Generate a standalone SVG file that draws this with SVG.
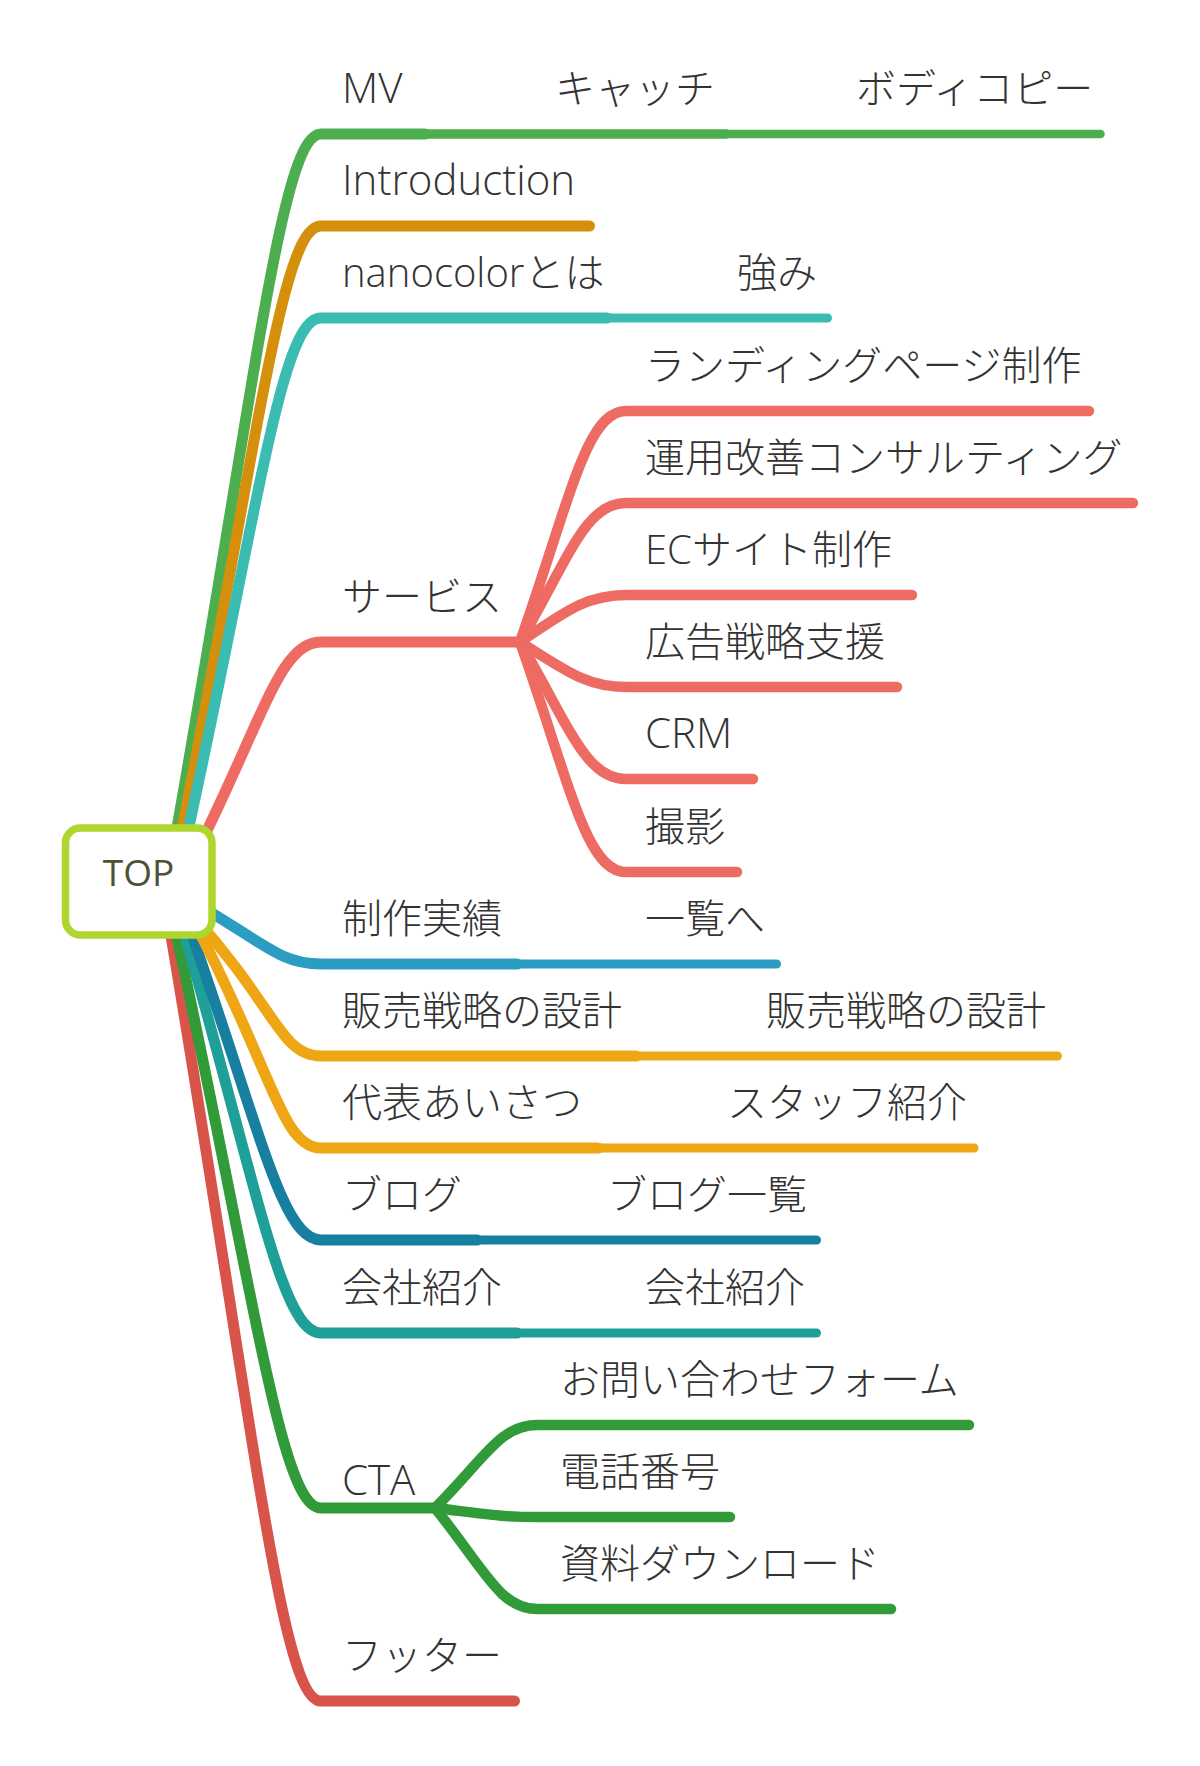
<svg xmlns="http://www.w3.org/2000/svg" width="1200" height="1766" viewBox="0 0 1200 1766">
<style>
.t { font-family: "Open Sans", "Noto Sans CJK JP", sans-serif; font-size: 40px; font-weight: 300; fill: #333333; }
.l { font-size: 42px; }
.top { font-family: "Open Sans", "Noto Sans CJK JP", sans-serif; font-size: 37px; font-weight: 400; fill: #4b5236; text-anchor: middle; }
.c { fill: none; stroke-linecap: round; stroke-linejoin: round; }
.w1 { stroke-width: 11; }
.wf { stroke-width: 10.5; }
.w2 { stroke-width: 9; }
.g1 { stroke: #4cae4f; }
.gd { stroke: #d4900c; }
.t1 { stroke: #3abcb3; }
.sa { stroke: #ee6b64; }
.b1 { stroke: #2b9dc2; }
.or { stroke: #eea614; }
.b2 { stroke: #177f9f; }
.t2 { stroke: #1e9f97; }
.g2 { stroke: #319b39; }
.rd { stroke: #d8544a; }
</style>
<rect width="1200" height="1766" fill="#ffffff"/>
<g id="connectors">
  <path class="c w1 g1" d="M174,845 C256,383 281,134 321,134 L425,134"/>
  <path class="c g1" stroke-width="9.5" d="M425,134 L726,134"/>
  <path class="c g1" stroke-width="8.5" d="M726,134 L1100.5,134"/>
  <path class="c w1 gd" d="M179,845 C258,443 281,226 321,226 L589.5,226"/>
  <path class="c w1 t1" d="M185,845 C260,502 281,318 321,318 L607,318"/>
  <path class="c w2 t1" d="M607,318 L827.5,318"/>
  <path class="c w1 sa" d="M200,845 C265,713 281,642 321,642 L520,642"/>
  <path class="c wf sa" d="M520,642 C570,500 586,411 626,411 L1089,411"/>
  <path class="c wf sa" d="M520,642 C570,555 586,503 626,503 L1133,503"/>
  <path class="c wf sa" d="M520,642 C565,612 586,595 626,595 L912,595"/>
  <path class="c wf sa" d="M520,642 C565,670 586,687 626,687 L897,687"/>
  <path class="c wf sa" d="M520,642 C570,728 586,779 626,779 L753,779"/>
  <path class="c wf sa" d="M520,642 C570,784 586,872 626,872 L737,872"/>
  <path class="c w1 rd" d="M168,918 C254,1427 281,1701 321,1701 L514.5,1701"/>
  <path class="c w1 g2" d="M173,918 C256,1302 281,1508 321,1508 L435,1508"/>
  <path class="c wf g2" d="M435,1508 C485,1458 500,1425 537,1425 L969,1425"/>
  <path class="c wf g2" d="M435,1508 C485,1514 500,1517 537,1517 L730,1517"/>
  <path class="c wf g2" d="M435,1508 C485,1570 500,1609 537,1609 L891,1609"/>
  <path class="c w1 t2" d="M180,918 C258,1188 281,1333 321,1333 L517,1333"/>
  <path class="c w2 t2" d="M517,1333 L816.5,1333"/>
  <path class="c w1 b2" d="M186,918 C260,1127 281,1240 321,1240 L477,1240"/>
  <path class="c w2 b2" d="M477,1240 L816.5,1240"/>
  <path class="c w1 or" d="M192,918 C272,1068 281,1148 321,1148 L598,1148"/>
  <path class="c w2 or" d="M598,1148 L974,1148"/>
  <path class="c w1 or" d="M195,918 C276,1008 281,1056 321,1056 L636,1056"/>
  <path class="c w2 or" d="M636,1056 L1057.5,1056"/>
  <path class="c w1 b1" d="M200,906 C265,944 281,964 321,964 L517,964"/>
  <path class="c w2 b1" d="M517,964 L776.5,964"/>
</g>
<g id="node-top">
  <rect x="65.5" y="828" width="146.5" height="107" rx="15" fill="#ffffff" stroke="#aed62e" stroke-width="7.5"/>
  <text class="top" x="138.5" y="886">TOP</text>
</g>
<g id="node-mv"><text class="t l" x="342" y="103">MV</text></g>
<g id="node-catch"><text class="t" x="555" y="103">キャッチ</text></g>
<g id="node-body"><text class="t" x="856" y="103">ボディコピー</text></g>
<g id="node-intro"><text class="t l" x="342" y="195">Introduction</text></g>
<g id="node-nanocolor"><text class="t" x="342" y="287">nanocolorとは</text></g>
<g id="node-strength"><text class="t" x="737" y="287">強み</text></g>
<g id="node-service"><text class="t" x="342" y="611">サービス</text></g>
<g id="node-lp"><text class="t" x="645" y="380">ランディングページ制作</text></g>
<g id="node-consult"><text class="t" x="645" y="472">運用改善コンサルティング</text></g>
<g id="node-ec"><text class="t" x="645" y="564">ECサイト制作</text></g>
<g id="node-ad"><text class="t" x="645" y="656">広告戦略支援</text></g>
<g id="node-crm"><text class="t l" x="645" y="748">CRM</text></g>
<g id="node-photo"><text class="t" x="645" y="841">撮影</text></g>
<g id="node-works"><text class="t" x="342" y="933">制作実績</text></g>
<g id="node-works-list"><text class="t" x="645" y="933">一覧へ</text></g>
<g id="node-sales"><text class="t" x="342" y="1025">販売戦略の設計</text></g>
<g id="node-sales-child"><text class="t" x="766" y="1025">販売戦略の設計</text></g>
<g id="node-greeting"><text class="t" x="342" y="1117">代表あいさつ</text></g>
<g id="node-staff"><text class="t" x="727" y="1117">スタッフ紹介</text></g>
<g id="node-blog"><text class="t" x="342" y="1209">ブログ</text></g>
<g id="node-blog-list"><text class="t" x="607" y="1209">ブログ一覧</text></g>
<g id="node-company"><text class="t" x="342" y="1302">会社紹介</text></g>
<g id="node-company-child"><text class="t" x="645" y="1302">会社紹介</text></g>
<g id="node-contact"><text class="t" x="560" y="1394">お問い合わせフォーム</text></g>
<g id="node-cta"><text class="t l" x="342" y="1495">CTA</text></g>
<g id="node-tel"><text class="t" x="560" y="1486">電話番号</text></g>
<g id="node-download"><text class="t" x="560" y="1578">資料ダウンロード</text></g>
<g id="node-footer"><text class="t" x="342" y="1670">フッター</text></g>
</svg>
